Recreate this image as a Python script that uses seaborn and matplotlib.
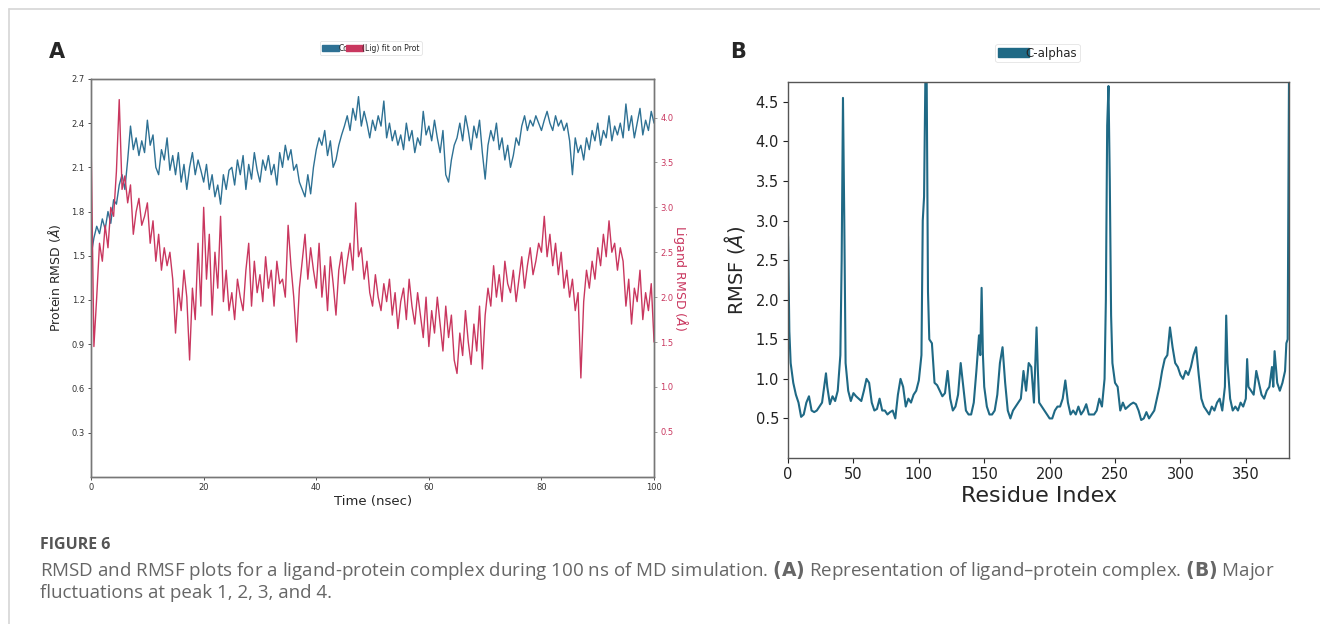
import numpy as np
import pandas as pd
import seaborn as sns
import matplotlib.pyplot as plt
from matplotlib.patches import Patch

# --- Panel A: RMSD over time (every 0.5 ns) ---
time_ns = np.arange(0, 100.5, 0.5)

protein_rmsd = [
    1.50, 1.62, 1.70, 1.65, 1.75, 1.68, 1.80, 1.72, 1.88, 1.85,
    1.98, 2.05, 1.95, 2.15, 2.38, 2.22, 2.30, 2.18, 2.28, 2.20,
    2.42, 2.25, 2.32, 2.10, 2.05, 2.22, 2.15, 2.30, 2.08, 2.18,
    2.05, 2.20, 2.00, 2.12, 1.95, 2.10, 2.20, 2.05, 2.15, 2.08,
    2.00, 2.12, 1.95, 2.05, 1.90, 1.98, 1.85, 2.05, 1.95, 2.08,
    2.10, 1.98, 2.15, 2.05, 2.18, 1.95, 2.12, 2.02, 2.20, 2.08,
    2.00, 2.15, 2.08, 2.18, 2.05, 2.12, 1.98, 2.20, 2.10, 2.25,
    2.15, 2.22, 2.08, 2.12, 2.00, 1.95, 1.90, 2.05, 1.92, 2.10,
    2.22, 2.30, 2.25, 2.35, 2.18, 2.28, 2.10, 2.15, 2.25, 2.32,
    2.38, 2.45, 2.35, 2.50, 2.42, 2.58, 2.38, 2.48, 2.40, 2.30,
    2.42, 2.35, 2.45, 2.38, 2.55, 2.30, 2.40, 2.28, 2.35, 2.25,
    2.32, 2.22, 2.40, 2.28, 2.35, 2.20, 2.30, 2.25, 2.48, 2.32,
    2.38, 2.28, 2.42, 2.30, 2.20, 2.35, 2.05, 2.00, 2.15, 2.25,
    2.30, 2.40, 2.28, 2.45, 2.35, 2.22, 2.38, 2.30, 2.42, 2.20,
    2.02, 2.25, 2.35, 2.28, 2.40, 2.22, 2.30, 2.15, 2.25, 2.10,
    2.18, 2.30, 2.25, 2.38, 2.45, 2.35, 2.42, 2.38, 2.45, 2.40,
    2.35, 2.42, 2.48, 2.40, 2.35, 2.45, 2.38, 2.42, 2.35, 2.40,
    2.28, 2.05, 2.30, 2.20, 2.25, 2.15, 2.30, 2.22, 2.35, 2.28,
    2.40, 2.25, 2.35, 2.30, 2.45, 2.28, 2.38, 2.32, 2.40, 2.30,
    2.53, 2.35, 2.45, 2.30, 2.40, 2.50, 2.32, 2.42, 2.35, 2.48,
    2.40,
]

ligand_rmsd = [
    3.75, 1.45, 2.00, 2.60, 2.40, 2.80, 2.55, 3.00, 2.90, 3.40,
    4.20, 3.20, 3.35, 3.05, 3.25, 2.70, 2.95, 3.10, 2.80, 2.90,
    3.05, 2.60, 2.85, 2.40, 2.70, 2.30, 2.55, 2.35, 2.50, 2.20,
    1.60, 2.10, 1.85, 2.30, 2.00, 1.30, 2.10, 1.75, 2.60, 1.90,
    3.00, 2.20, 2.70, 1.80, 2.50, 2.10, 2.90, 1.95, 2.30, 1.85,
    2.05, 1.75, 2.20, 2.00, 1.85, 2.30, 2.60, 1.90, 2.40, 2.05,
    2.25, 1.95, 2.45, 2.10, 2.30, 1.90, 2.40, 2.15, 2.20, 2.00,
    2.80, 2.35, 2.00, 1.50, 2.10, 2.40, 2.70, 2.20, 2.55, 2.30,
    2.10, 2.60, 2.00, 2.35, 1.85, 2.45, 2.15, 1.80, 2.30, 2.50,
    2.15, 2.40, 2.60, 2.30, 3.05, 2.45, 2.55, 2.20, 2.40, 2.05,
    1.90, 2.25, 2.00, 1.85, 2.15, 1.95, 2.20, 1.80, 2.05, 1.65,
    1.95, 2.10, 1.75, 2.20, 1.90, 1.70, 2.05, 1.80, 1.55, 2.00,
    1.45, 1.85, 1.60, 2.00, 1.70, 1.40, 1.90, 1.55, 1.80, 1.30,
    1.15, 1.60, 1.35, 1.85, 1.50, 1.25, 1.70, 1.40, 1.90, 1.20,
    1.80, 2.10, 1.90, 2.35, 2.00, 2.25, 1.95, 2.40, 2.15, 2.05,
    2.30, 1.95, 2.20, 2.45, 2.10, 2.35, 2.55, 2.25, 2.40, 2.60,
    2.50, 2.90, 2.45, 2.70, 2.35, 2.60, 2.25, 2.50, 2.10, 2.30,
    2.00, 2.20, 1.85, 2.05, 1.10, 1.95, 2.30, 2.10, 2.40, 2.20,
    2.55, 2.35, 2.70, 2.45, 2.85, 2.50, 2.60, 2.30, 2.55, 2.40,
    1.90, 2.20, 1.70, 2.10, 1.95, 2.30, 1.75, 2.05, 1.85, 2.15,
    1.50,
]

# --- Panel B: RMSF per residue ---
residue_idx = [
    0, 1, 2, 4, 6, 8, 10, 12, 14, 16, 18, 20, 22, 24, 26, 28, 29, 30, 32, 34,
    36, 38, 40, 41, 42, 43, 44, 46, 48, 50, 52, 54, 56, 58, 60, 62, 64, 66, 68, 70,
    72, 74, 76, 78, 80, 82, 84, 86, 88, 90, 92, 94, 96, 98, 100, 102, 103, 104, 105, 106,
    107, 108, 110, 112, 114, 116, 118, 120, 122, 124, 126, 128, 130, 132, 134, 136, 138, 140, 142, 144,
    146, 147, 148, 149, 150, 152, 154, 156, 158, 160, 162, 164, 166, 168, 170, 172, 174, 176, 178, 180,
    182, 184, 186, 188, 190, 191, 192, 194, 196, 198, 200, 202, 204, 206, 208, 210, 212, 214, 216, 218,
    220, 222, 224, 226, 228, 230, 232, 234, 236, 238, 240, 242, 243, 244, 245, 246, 247, 248, 250, 252,
    254, 256, 258, 260, 262, 264, 266, 268, 270, 272, 274, 276, 278, 280, 282, 284, 286, 288, 290, 292,
    294, 296, 298, 300, 302, 304, 306, 308, 310, 312, 314, 316, 318, 320, 322, 324, 326, 328, 330, 332,
    334, 335, 336, 338, 340, 342, 344, 346, 348, 350, 351, 352, 354, 356, 358, 360, 362, 364, 366, 368,
    370, 371, 372, 374, 376, 378, 380, 381, 382, 383,
]
rmsf = [
    2.80, 1.60, 1.20, 0.95, 0.80, 0.70, 0.52, 0.55, 0.70, 0.78, 0.60, 0.58, 0.60, 0.65, 0.70, 0.95, 1.07, 0.90, 0.68, 0.78,
    0.72, 0.85, 1.30, 2.50, 4.55, 3.00, 1.20, 0.85, 0.72, 0.82, 0.78, 0.75, 0.72, 0.85, 1.00, 0.95, 0.70, 0.60, 0.62, 0.75,
    0.60, 0.60, 0.55, 0.58, 0.60, 0.50, 0.80, 1.00, 0.90, 0.65, 0.75, 0.70, 0.80, 0.85, 0.98, 1.30, 3.00, 3.30, 4.80, 4.80,
    2.10, 1.50, 1.45, 0.95, 0.92, 0.85, 0.78, 0.82, 1.10, 0.75, 0.60, 0.65, 0.80, 1.20, 0.90, 0.60, 0.55, 0.55, 0.70, 1.10,
    1.55, 1.30, 2.15, 1.30, 0.90, 0.65, 0.55, 0.55, 0.60, 0.80, 1.20, 1.40, 0.95, 0.60, 0.50, 0.60, 0.65, 0.70, 0.75, 1.10,
    0.85, 1.20, 1.15, 0.70, 1.65, 1.10, 0.70, 0.65, 0.60, 0.55, 0.50, 0.50, 0.60, 0.65, 0.65, 0.75, 0.98, 0.70, 0.55, 0.60,
    0.55, 0.65, 0.55, 0.60, 0.68, 0.55, 0.55, 0.55, 0.60, 0.75, 0.65, 1.00, 2.00, 4.20, 4.70, 3.50, 1.80, 1.20, 0.95, 0.90,
    0.60, 0.70, 0.62, 0.65, 0.68, 0.70, 0.68, 0.60, 0.48, 0.50, 0.58, 0.50, 0.55, 0.60, 0.75, 0.90, 1.10, 1.25, 1.30, 1.65,
    1.40, 1.20, 1.15, 1.05, 1.00, 1.10, 1.05, 1.15, 1.30, 1.40, 1.05, 0.75, 0.65, 0.60, 0.55, 0.65, 0.60, 0.70, 0.75, 0.60,
    0.90, 1.80, 1.20, 0.75, 0.60, 0.65, 0.60, 0.70, 0.65, 0.75, 1.25, 0.90, 0.85, 0.80, 1.10, 0.95, 0.80, 0.75, 0.85, 0.90,
    1.15, 0.90, 1.35, 0.95, 0.85, 0.95, 1.10, 1.45, 1.50, 4.80,
]

blue = '#2e7194'
red = '#c9375f'
teal = '#1f6985'

rmsd_df = pd.DataFrame({'time': time_ns, 'protein': protein_rmsd, 'ligand': ligand_rmsd})
rmsf_df = pd.DataFrame({'residue': residue_idx, 'rmsf': rmsf})

sns.set_style('ticks')
plt.rcParams['font.family'] = ['DejaVu Sans']

fig = plt.figure(figsize=(13.2, 6.24), dpi=100)

# light frame lines at top and left of the figure
fig.add_artist(plt.Line2D([0.007, 1.0], [0.985, 0.985], color='#d6d6d6', lw=1.2))
fig.add_artist(plt.Line2D([0.007, 0.007], [0.0, 0.985], color='#d6d6d6', lw=1.2))

# ---------------- Panel A ----------------
ax1 = fig.add_axes([0.069, 0.236, 0.4265, 0.6375])
sns.lineplot(data=rmsd_df, x='time', y='protein', ax=ax1, color=blue, lw=1.0)
ax1.set_xlim(0, 100)
ax1.set_ylim(0, 2.7)
ax1.set_xticks([0, 20, 40, 60, 80, 100])
ax1.set_yticks([0.3, 0.6, 0.9, 1.2, 1.5, 1.8, 2.1, 2.4, 2.7])
ax1.tick_params(labelsize=6, length=2.5, width=0.6, colors='#333333', pad=2)
ax1.set_xlabel('Time (nsec)', fontsize=9.5, labelpad=2)
ax1.set_ylabel('Protein RMSD ($\\AA$)', fontsize=9, labelpad=6)

ax2 = ax1.twinx()
sns.lineplot(data=rmsd_df, x='time', y='ligand', ax=ax2, color=red, lw=1.0)
ax2.set_ylim(0, 4.43)
ax2.set_yticks([0.5, 1.0, 1.5, 2.0, 2.5, 3.0, 3.5, 4.0])
ax2.tick_params(axis='y', labelsize=6, length=2.5, width=0.6, colors='#888888',
                labelcolor=red, pad=2)
ax2.set_ylabel('Ligand RMSD ($\\AA$)', fontsize=9, color=red, rotation=270, labelpad=12)
ax2.set_xlabel('')
for ax in (ax1, ax2):
    for s in ax.spines.values():
        s.set_color('#777777')
        s.set_linewidth(1.0)

legA = fig.legend(handles=[Patch(color=blue), Patch(color=red)],
                  labels=['C\u03b1', '(Lig) fit on Prot'],
                  loc='center', bbox_to_anchor=(0.281, 0.923), ncol=2,
                  fontsize=5.5, handlelength=2.2, handleheight=0.8,
                  handletextpad=-0.1, columnspacing=-0.3, frameon=True,
                  borderpad=0.3, fancybox=True)
legA.get_frame().set_edgecolor('#dddddd')
legA.get_frame().set_linewidth(0.6)

# ---------------- Panel B ----------------
ax3 = fig.add_axes([0.597, 0.266, 0.3795, 0.6025])
sns.lineplot(data=rmsf_df, x='residue', y='rmsf', ax=ax3, color=teal, lw=1.5)
ax3.set_xlim(0, 383)
ax3.set_ylim(0, 4.75)
ax3.set_xticks([0, 50, 100, 150, 200, 250, 300, 350])
ax3.set_yticks([0.5, 1.0, 1.5, 2.0, 2.5, 3.0, 3.5, 4.0, 4.5])
ax3.tick_params(labelsize=10.5, length=3.5, width=0.8, colors='#222222', pad=3)
ax3.set_xlabel('Residue Index', fontsize=16, labelpad=3)
ax3.set_ylabel('RMSF ($\\AA$)', fontsize=14, labelpad=6)
for s in ax3.spines.values():
    s.set_color('#555555')
    s.set_linewidth(1.0)

legB = fig.legend(handles=[Patch(color=teal)], labels=['C-alphas'],
                  loc='center', bbox_to_anchor=(0.786, 0.915),
                  fontsize=8.5, handlelength=2.6, handleheight=0.9,
                  handletextpad=-0.3, frameon=True, borderpad=0.25)
legB.get_frame().set_edgecolor('#dddddd')
legB.get_frame().set_linewidth(0.6)

# panel letters
fig.text(0.037, 0.917, 'A', fontsize=15, fontweight='bold', va='center')
fig.text(0.553, 0.917, 'B', fontsize=15, fontweight='bold', va='center')

# caption
cap_font = ['Open Sans', 'DejaVu Sans']
fig.text(0.030, 0.127, 'FIGURE 6', fontsize=11.5, fontweight='bold', color='#555555',
         va='center', family=cap_font)
fig.text(0.030, 0.086,
         'RMSD and RMSF plots for a ligand-protein complex during 100 ns of MD simulation. '
         '$\\bf{(A)}$ Representation of ligand\u2013protein complex. $\\bf{(B)}$ Major',
         fontsize=13.5, color='#666666', va='center', family=cap_font)
fig.text(0.030, 0.050, 'fluctuations at peak 1, 2, 3, and 4.',
         fontsize=13.5, color='#666666', va='center', family=cap_font)

fig.savefig('out.png', dpi=100, facecolor='white')
